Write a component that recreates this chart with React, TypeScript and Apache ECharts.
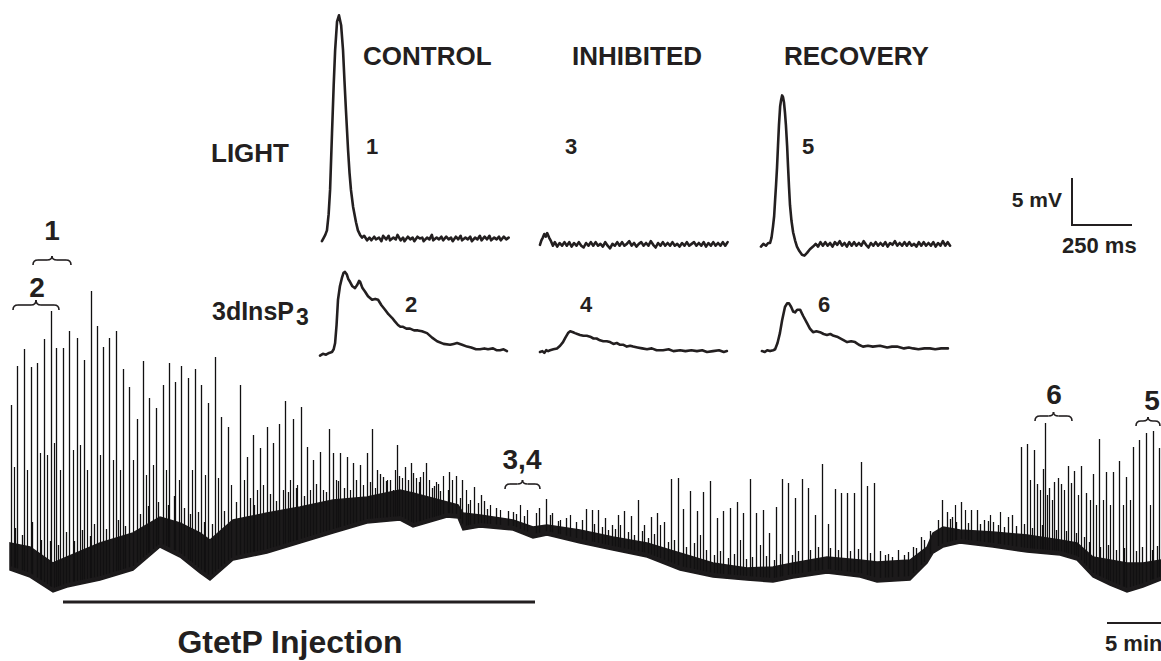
import React, { useEffect, useRef } from "react";
import * as echarts from "echarts";

const INK = "#231f20";
const FONT = '"Liberation Sans", Arial, Helvetica, sans-serif';

// ---- Long recording (time in s, potential in mV, arbitrary offset) ----
const bandTime = [50,150,265,335,500,665,800,900,1000,1050,1165,1335,1500,1665,1835,2000,2065,2235,2290,2315,2400,2565,2665,2735,2900,3065,3235,3400,3565,3735,3865,3965,4135,4300,4385,4550,4635,4665,4715,4800,4965,5135,5300,5385,5465,5550,5635,5715,5805];
const bandLower = [3.0,2.3,0.8,1.3,2.0,3.0,5.3,4.3,2.7,2.0,4.0,4.7,5.7,6.7,7.7,8.0,7.3,8.3,8.2,7.0,7.3,7.0,6.2,6.5,5.7,5.0,4.3,3.0,2.3,2.0,1.8,2.2,2.7,2.3,1.8,2.0,3.7,4.7,5.3,5.7,5.3,4.8,4.5,4.0,2.3,1.5,0.8,1.3,2.0];
const bandUpper = [5.7,5.3,3.7,4.3,5.7,6.7,8.3,7.7,6.7,6.0,8.0,8.7,9.3,10.0,10.3,11.0,10.7,9.8,9.5,8.7,8.5,8.0,7.3,7.5,7.0,6.3,5.7,4.7,3.7,3.2,3.3,3.7,4.3,4.0,3.8,4.0,5.3,6.7,7.3,7.0,6.8,6.5,6.0,5.7,4.3,4.0,3.7,3.7,4.0];

// light responses in the long recording: [time s, peak mV]
const spikes = [
[55,19.5],[85,23.4],[120,25.1],[155,23.3],[185,23.7],[220,26.1],[255,28.9],[280,25.2],[315,25.2],[345,26.9],
[385,26.2],[420,24.0],[455,30.9],[485,27.4],[515,25.3],[545,26.2],[580,26.9],[615,23.1],[645,21.3],[685,18.1],
[715,23.9],[745,20.2],[780,19.2],[815,21.5],[845,23.7],[875,21.8],[905,23.4],[940,22.2],[975,23.1],[1005,21.5],
[1040,19.7],[1075,24.3],[1105,18.3],[1140,17.3],[1200,21.5],[1235,14.3],[1265,16.5],[1300,15.2],[1335,17.3],[1365,15.7],
[1395,17.6],[1425,19.9],[1465,18.1],[1505,19.3],[1535,15.3],[1565,14.0],[1600,14.8],[1645,17.1],[1665,14.7],[1700,14.7],
[1735,14.3],[1765,13.7],[1800,13.5],[1835,14.7],[1860,17.1],[1885,13.0],[1915,12.3],[1950,12.0],[1985,15.5],[2025,13.3],
[2055,13.7],[2065,12.7],[2095,11.8],[2130,13.7],[2160,11.2],[2190,11.6],[2245,12.8],[2280,12.4],[2310,12.0],[2370,11.3],
[2405,10.5],[2435,9.1],[2565,8.8],[2695,9.2],[2730,10.1],[2760,8.7],[2930,9.1],[2960,9.0],[2990,9.0],[3025,8.2],
[3060,7.5],[3090,8.5],[3120,8.9],[3155,8.4],[3190,10.0],[3220,7.5],[3255,8.3],[3285,8.7],[3320,7.8],[3355,12.1],
[3390,12.2],[3415,9.1],[3450,10.9],[3485,8.9],[3515,10.8],[3550,11.9],[3585,8.2],[3615,8.9],[3650,9.2],[3685,9.8],
[3715,8.7],[3750,12.1],[3780,8.7],[3815,9.0],[3845,6.7],[3880,9.3],[3910,12.1],[3940,11.7],[3975,10.2],[4010,12.1],
[4040,11.2],[4075,8.5],[4110,13.6],[4140,7.6],[4175,11.1],[4205,10.7],[4235,10.7],[4270,10.7],[4305,13.8],[4335,11.4],
[4370,11.7],[4425,4.5],[4460,4.3],[4520,4.5],[4565,5.3],[4605,6.3],[4710,10.0],[4735,8.8],[4760,8.3],[4805,9.8],
[4855,9.0],[4885,9.0],[4920,8.0],[4965,7.8],[5040,8.3],[5060,8.5],[5105,15.3],[5135,15.6],[5170,15.0],[5185,11.6],
[5215,13.1],[5225,17.7],[5245,11.2],[5270,11.8],[5290,12.2],[5305,11.6],[5340,13.4],[5355,11.7],[5370,12.9],[5405,13.4],
[5430,10.7],[5465,12.6],[5495,16.1],[5530,12.8],[5565,12.8],[5595,13.9],[5630,12.3],[5665,15.3],[5695,16.0],[5730,16.7],
[5765,16.9],[5795,15.2]
];
// smaller deflections riding on the baseline: [time s, peak mV]
const minorSpikes = [
[70,13.3],[135,13.0],[200,14.7],[235,14.5],[270,15.7],[300,13.0],[365,15.0],[400,15.5],[435,13.0],[500,14.5],
[565,14.0],[600,13.0],[665,14.0],[730,12.5],[765,13.5],[830,13.0],[895,12.0],[960,13.0],[1025,12.5],[1090,12.2],
[1155,11.5],[1220,12.0],[1285,11.0],[1315,11.5],[1415,11.0],[1450,12.0],[1485,11.5],[1550,11.0],[1615,11.0],[1680,12.0],
[1750,11.0],[1815,11.5],[1875,11.2],[1935,12.0],[1965,11.0],[1975,13.0],[2010,12.2],[2080,12.2],[2115,12.8],[2145,12.0],
[2180,11.8],[2215,12.4],[2260,12.0],[2330,11.0],[2350,10.0],[2450,9.5],[2500,9.0],[2600,9.5],[2635,9.0],[2800,8.0],
[2850,8.5],[3100,7.5],[3300,7.5],[3500,6.5],[3700,6.0],[3800,5.5],[4775,9.5],[4825,9.0],[4950,8.5],[5000,8.8],
[5150,12.0],[5200,11.0],[5235,10.5],[5260,10.0],[5320,11.0],[5390,10.5],[5450,10.0],[5480,9.5],[5515,10.0],[5550,9.5],
[5615,9.5],[5650,10.0],[5750,9.5]
];
// baseline noise excursions just above the dense band: [time s, top mV]
const noiseHairs = [
[75,7.2],[110,6.5],[160,7.8],[205,6.0],[250,5.9],[290,5.5],[330,6.8],[370,5.9],[410,7.0],[450,6.4],[470,7.6],[530,7.1],
[590,8.0],[625,7.4],[700,8.6],[740,9.4],[790,9.8],[840,9.5],[870,10.4],[920,9.2],[950,8.6],[990,8.8],
[1020,7.8],[1060,7.6],[1120,8.9],[1180,9.8],[1250,10.2],[1270,9.5],[1350,10.6],[1380,9.9],[1440,10.8],[1480,11.2],
[1520,10.4],[1580,11.6],[1630,10.8],[1690,11.9],[1720,11.2],[1780,12.0],[1850,11.8],[1900,12.6],[1930,11.9],[1995,12.4],
[2040,12.0],[2100,12.3],[2170,11.4],[2200,10.9],[2240,11.0],[2300,10.2],[2340,9.6],[2390,9.7],[2420,9.9],
[2480,9.2],[2540,8.9],[2580,8.6],[2620,8.4],[2680,8.7],[2750,8.5],[2790,7.9],[2830,8.2],[2880,7.8],[2910,8.0],[2970,7.6],
[3010,7.3],[3040,7.0],[3075,7.1],[3140,6.8],[3170,6.5],[3210,6.9],[3240,6.2],[3270,6.6],[3340,5.8],[3370,6.0],[3430,5.3],[3470,5.7],
[3530,5.0],[3570,4.5],[3600,4.9],[3640,4.2],[3670,4.6],[3730,4.1],[3760,4.3],[3830,4.4],[3870,4.0],[3900,4.6],[3960,4.5],[3990,4.9],
[4050,5.0],[4090,5.3],[4150,5.2],[4190,5.0],[4250,4.9],[4290,5.1],[4350,4.7],[4400,4.9],[4440,4.6],[4490,5.0],[4540,4.8],[4580,5.2],
[4620,6.0],[4650,6.9],[4690,8.0],[4750,8.1],[4780,7.8],[4840,7.7],[4900,7.6],[4940,7.9],[4990,7.5],[5020,7.3],[5080,7.4],[5120,7.6],[5160,7.2],[5210,7.5],[5280,7.0],[5330,6.9],[5380,6.7],
[5420,6.3],[5445,5.8],[5500,5.3],[5540,5.5],[5580,5.0],[5620,5.2],[5680,4.9],[5710,5.3],[5760,5.0],[5785,5.4]
];

// ---- Inset responses: [time ms, mV] ----
const lightControl = [
[8,0.2],[16,0.6],[22,0.9],[29,1.4],[36,3.2],[42,5.9],[50,12.2],[57,17.5],[63,21.4],[71,24.6],[79,25.3],[88,24.2],[96,21.4],[102,18.0],[108,14.8],[117,10.3],[123,7.8],[129,5.9],[138,4.0],[150,2.3],[158,1.4],[167,0.9],[175,0.6],[184,0.8],[196,0.3],
[206,0.6],[214,0.3],[226,0.7],[233,0.4],[246,0.6],[256,0.2],[263,0.8],[276,0.4],[286,0.8],[292,0.3],[306,0.6],[316,0.4],[323,0.9],[336,0.3],[346,0.6],[352,0.2],[366,0.7],[376,0.4],[386,0.6],[393,0.2],[406,0.7],[416,0.5],[426,0.6],[432,0.2],[446,0.6],[456,0.4],[466,0.9],[472,0.3],[486,0.6],[496,0.4],[506,0.7],[513,0.3],[526,0.7],[536,0.4],[546,0.6],[553,0.2],[566,0.7],[576,0.4],[586,0.8],[592,0.3],[606,0.6],[616,0.4],[626,0.7],[633,0.2],[646,0.6],[656,0.4],[666,0.8],[673,0.3],[686,0.7],[696,0.4],[706,0.8],[713,0.3],[726,0.6],[736,0.4],[746,0.7],[753,0.3],[766,0.7],[776,0.4],[786,0.6]
];
const lightInhibited = [
[4,-0.2],[10,0.3],[16,0.6],[22,1.0],[28,0.7],[34,1.1],[42,0.6],[50,0.2],[58,-0.3],[66,0.1],[76,-0.4],[86,0.0],[96,-0.3],[106,0.1],[116,-0.3],[126,0.1],[136,-0.4],[146,0.0],[156,-0.3],[166,0.1],[176,-0.3],[186,-0.5],[196,0.0],[206,-0.3],[216,0.1],[226,-0.3],[236,0.1],[246,-0.3],[256,-0.1],[266,-0.4],[276,0.1],[286,-0.3],[296,-0.6],[306,-0.1],[316,-0.3],[326,0.1],[336,-0.3],[346,0.1],[356,-0.3],[366,-0.1],[376,0.2],[386,-0.3],[396,0.0],[406,-0.4],[416,-0.1],[426,0.1],[436,-0.3],[446,0.0],[456,-0.3],[466,0.2],[476,-0.2],[486,-0.5],[496,0.0],[506,-0.3],[516,0.1],[526,-0.3],[536,0.0],[546,-0.3],[556,0.1],[566,-0.3],[576,-0.1],[586,-0.4],[596,0.0],[606,-0.3],[616,0.1],[626,-0.3],[636,-0.1],[646,0.1],[656,-0.3],[666,0.0],[676,-0.3],[686,0.1],[696,-0.4],[706,0.0],[716,-0.3],[726,0.1],[736,-0.3],[746,0.0],[756,-0.3],[766,0.1],[776,-0.3],[786,0.1]
];
const lightRecovery = [
[4,-0.4],[14,-0.1],[25,-0.3],[34,0.0],[42,0.0],[48,0.6],[54,1.8],[59,3.0],[63,4.8],[67,6.5],[71,8.4],[75,10.8],[79,13.1],[84,15.2],[88,15.9],[92,16.4],[96,16.2],[100,15.6],[104,14.5],[108,13.1],[113,10.8],[117,8.4],[121,6.2],[125,4.2],[131,2.5],[138,1.2],[146,0.3],[154,-0.4],[164,-0.9],[175,-1.3],[185,-1.4],[196,-1.1],[208,-0.7],[221,-0.4],[232,-0.1],
[242,-0.4],[252,0.1],[262,-0.3],[272,0.1],[282,-0.3],[292,0.0],[302,-0.4],[312,0.1],[322,-0.2],[332,0.2],[342,-0.3],[352,0.0],[362,-0.4],[372,0.1],[382,-0.3],[392,0.1],[402,-0.3],[412,0.0],[422,-0.3],[432,0.2],[442,-0.2],[452,-0.5],[462,0.0],[472,-0.3],[482,0.1],[492,-0.3],[502,0.0],[512,-0.3],[522,0.1],[532,-0.4],[542,0.0],[552,-0.2],[562,0.2],[572,-0.3],[582,0.0],[592,-0.3],[602,0.1],[612,-0.3],[622,0.1],[632,-0.3],[642,-0.1],[652,-0.4],[662,0.1],[672,-0.3],[682,0.1],[692,-0.3],[702,0.0],[712,-0.3],[722,0.1],[732,-0.4],[742,0.0],[752,-0.3],[762,0.2],[772,-0.3],[782,0.1],[792,-0.3]
];
const ip3Control = [
[0,-0.4],[12,-0.2],[25,-0.3],[38,-0.1],[50,0.0],[57,0.3],[63,1.0],[69,3.0],[75,5.8],[83,7.3],[92,8.3],[98,8.8],[104,8.9],[112,8.6],[118,8.1],[125,7.8],[135,7.3],[146,7.1],[156,7.5],[163,7.9],[167,7.8],[177,7.1],[188,6.7],[200,6.2],[217,5.8],[230,5.9],[242,5.8],[256,5.2],[271,4.7],[285,4.2],[300,3.8],[312,3.4],[325,3.0],[335,2.8],[346,2.8],[360,2.6],[375,2.6],[392,2.4],[408,2.4],[425,2.3],[446,2.1],[467,1.6],[488,1.2],[515,0.9],[542,0.8],[557,0.9],[571,1.0],[592,0.8],[613,0.6],[630,0.5],[650,0.3],[667,0.3],[685,0.4],[700,0.3],[721,0.4],[735,0.2],[750,0.2],[765,0.3],[779,0.1]
];
const ip3Inhibited = [
[4,0.0],[14,0.1],[22,-0.1],[30,0.2],[38,0.1],[46,0.2],[60,0.3],[75,0.4],[88,0.7],[100,1.1],[110,1.6],[121,2.1],[130,2.3],[142,2.2],[150,2.1],[160,2.0],[171,1.9],[185,1.8],[199,1.8],[213,1.7],[227,1.5],[240,1.5],[254,1.3],[268,1.2],[282,1.2],[296,1.1],[310,0.9],[324,1.0],[338,0.8],[352,0.8],[366,0.6],[380,0.7],[392,0.6],[410,0.5],[430,0.4],[450,0.3],[470,0.4],[490,0.2],[517,0.2],[540,0.3],[560,0.1],[588,0.2],[610,0.1],[635,0.2],[658,0.1],[680,0.2],[700,0.0],[725,0.1],[750,0.2],[770,0.0],[783,0.1]
];
const ip3Recovery = [
[8,0.1],[20,0.0],[30,0.2],[42,0.1],[55,0.2],[63,0.3],[73,1.0],[83,2.1],[92,3.5],[104,5.0],[113,5.4],[121,5.4],[130,5.0],[138,4.5],[146,4.4],[155,4.7],[167,4.7],[180,4.0],[196,3.2],[208,2.6],[221,2.2],[235,2.3],[250,2.2],[265,2.0],[279,1.9],[293,2.0],[307,1.8],[321,1.7],[342,1.4],[363,1.1],[380,1.2],[396,1.1],[412,0.8],[429,0.6],[450,0.7],[470,0.6],[500,0.7],[530,0.5],[550,0.6],[571,0.6],[600,0.4],[620,0.5],[638,0.4],[660,0.3],[685,0.4],[708,0.4],[730,0.3],[755,0.4],[783,0.4]
];

const columnTitles = ["CONTROL", "INHIBITED", "RECOVERY"];
const lightNumbers = ["1", "3", "5"];
const ip3Numbers = ["2", "4", "6"];

function lowerAt(t: number) {
  if (t <= bandTime[0]) return bandLower[0];
  for (let i = 0; i < bandTime.length - 1; i++) {
    if (t >= bandTime[i] && t <= bandTime[i + 1]) {
      const f = (t - bandTime[i]) / (bandTime[i + 1] - bandTime[i]);
      return bandLower[i] + f * (bandLower[i + 1] - bandLower[i]);
    }
  }
  return bandLower[bandLower.length - 1];
}

function brace(x0: number, x1: number, yEnd: number, yFlat: number, yTip: number) {
  const xm = (x0 + x1) / 2;
  const st = { stroke: INK, lineWidth: 1.6, fill: null as any };
  const r = 5;
  return [
    { type: "bezierCurve", shape: { x1: x0, y1: yEnd, x2: x0 + r, y2: yFlat, cpx1: x0, cpy1: yFlat }, style: st },
    { type: "line", shape: { x1: x0 + r, y1: yFlat, x2: xm - r, y2: yFlat }, style: st },
    { type: "bezierCurve", shape: { x1: xm - r, y1: yFlat, x2: xm, y2: yTip, cpx1: xm, cpy1: yFlat }, style: st },
    { type: "bezierCurve", shape: { x1: xm, y1: yTip, x2: xm + r, y2: yFlat, cpx1: xm, cpy1: yFlat }, style: st },
    { type: "line", shape: { x1: xm + r, y1: yFlat, x2: x1 - r, y2: yFlat }, style: st },
    { type: "bezierCurve", shape: { x1: x1 - r, y1: yFlat, x2: x1, y2: yEnd, cpx1: x1, cpy1: yFlat }, style: st },
  ];
}

function txt(text: string, x: number, y: number, size: number, align = "left") {
  return {
    type: "text",
    style: {
      text, x, y, fill: INK,
      font: `bold ${size}px ${FONT}`,
      textAlign: align, textVerticalAlign: "middle",
      align, verticalAlign: "middle",
    },
  };
}

export default function App() {
  const ref = useRef<HTMLDivElement>(null);
  useEffect(() => {
    if (!ref.current) return;
    const chart = echarts.init(ref.current, null, { renderer: "svg" });

    const insetLefts = [320, 539, 760];
    const grids: any[] = [{ left: 0, top: 280, width: 1161, height: 320 }];
    const xAxes: any[] = [{ type: "value", gridIndex: 0, min: 0, max: 5805, show: false }];
    const yAxes: any[] = [{ type: "value", gridIndex: 0, min: 0, max: 32, show: false }];
    insetLefts.forEach((l) => {
      grids.push({ left: l, top: 0, width: 192, height: 261 });
      xAxes.push({ type: "value", gridIndex: grids.length - 1, min: 0, max: 800, show: false });
      yAxes.push({ type: "value", gridIndex: grids.length - 1, min: -2, max: 27, show: false });
    });
    insetLefts.forEach((l) => {
      grids.push({ left: l, top: 262, width: 192, height: 99 });
      xAxes.push({ type: "value", gridIndex: grids.length - 1, min: 0, max: 800, show: false });
      yAxes.push({ type: "value", gridIndex: grids.length - 1, min: -1, max: 10, show: false });
    });

    const insetData = [lightControl, lightInhibited, lightRecovery, ip3Control, ip3Inhibited, ip3Recovery];
    const insetSeries = insetData.map((d, i) => ({
      type: "line",
      xAxisIndex: i + 1,
      yAxisIndex: i + 1,
      data: d,
      symbol: "none",
      clip: false,
      lineStyle: { color: INK, width: 2.6, join: "round", cap: "round" },
    }));

    const makeSpikeRender = (w: number) => (params: any, api: any) => {
      const t = api.value(0);
      const v = api.value(1);
      const p0 = api.coord([t, lowerAt(t) + 0.4]);
      const p1 = api.coord([t, v]);
      const x = Math.round(p0[0]) + 0.5;
      return {
        type: "line",
        shape: { x1: x, y1: p0[1], x2: x, y2: p1[1] },
        style: { stroke: "#111011", lineWidth: w },
      };
    };

    const graphic: any[] = [];
    columnTitles.forEach((t, i) => graphic.push(txt(t, [363, 572, 784][i], 56, 26)));
    graphic.push(txt("LIGHT", 211, 153, 26));
    graphic.push(txt("3dInsP", 212, 311, 25));
    graphic.push(txt("3", 296, 317, 23));
    lightNumbers.forEach((t, i) => graphic.push(txt(t, [372, 571, 808][i], 146, 22, "center")));
    ip3Numbers.forEach((t, i) => graphic.push(txt(t, [411, 586, 824][i], 304, 22, "center")));
    // bracket labels on the long recording
    graphic.push(txt("1", 52, 230, 28, "center"));
    graphic.push(txt("2", 37, 287, 28, "center"));
    graphic.push(txt("3,4", 522, 459, 28, "center"));
    graphic.push(txt("6", 1054, 394, 28, "center"));
    graphic.push(txt("5", 1152, 400, 28, "center"));
    graphic.push(...brace(33, 71, 265, 260, 256));
    graphic.push(...brace(13, 59, 310, 305, 300));
    graphic.push(...brace(505, 540, 489, 484, 480));
    graphic.push(...brace(1035, 1072, 421, 416, 412));
    graphic.push(...brace(1136, 1160, 426, 421, 417));
    // scale bars
    const barStyle = { stroke: INK, lineWidth: 2 };
    graphic.push({ type: "polyline", shape: { points: [[1072, 178], [1072, 225], [1132, 225]] }, style: { ...barStyle, fill: null } });
    graphic.push(txt("5 mV", 1062, 199, 21, "right"));
    graphic.push(txt("250 ms", 1062, 245, 22));
    graphic.push({ type: "line", shape: { x1: 1107, y1: 623, x2: 1170, y2: 623 }, style: barStyle });
    graphic.push(txt("5 min", 1105, 643, 22));
    // injection period
    graphic.push({ type: "line", shape: { x1: 63, y1: 602, x2: 535, y2: 602 }, style: { stroke: INK, lineWidth: 3 } });
    graphic.push(txt("GtetP Injection", 290, 642, 32, "center"));

    chart.setOption({
      animation: false,
      backgroundColor: "#ffffff",
      grid: grids,
      xAxis: xAxes,
      yAxis: yAxes,
      series: [
        {
          type: "custom",
          xAxisIndex: 0,
          yAxisIndex: 0,
          data: [[bandTime[0], bandLower[0]]],
          renderItem: (params: any, api: any) => {
            const pts: number[][] = [];
            for (let i = 0; i < bandTime.length; i++) pts.push(api.coord([bandTime[i], bandUpper[i]]));
            for (let i = bandTime.length - 1; i >= 0; i--) pts.push(api.coord([bandTime[i], bandLower[i]]));
            return { type: "polygon", shape: { points: pts }, style: { fill: "#1c1a1b", stroke: "#1c1a1b", lineWidth: 1.5 } };
          },
        },
        { type: "custom", xAxisIndex: 0, yAxisIndex: 0, data: noiseHairs, renderItem: makeSpikeRender(1.3) },
        { type: "custom", xAxisIndex: 0, yAxisIndex: 0, data: minorSpikes, renderItem: makeSpikeRender(1.2) },
        { type: "custom", xAxisIndex: 0, yAxisIndex: 0, data: spikes, renderItem: makeSpikeRender(1.3) },
        ...insetSeries,
      ],
      graphic,
    });
    return () => chart.dispose();
  }, []);
  return (
    <div
      ref={ref}
      style={{ position: "fixed", left: 0, top: 0, width: 1161, height: 661, background: "#fff" }}
    />
  );
}
